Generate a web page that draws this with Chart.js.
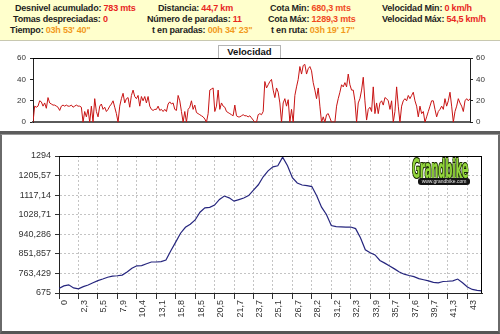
<!DOCTYPE html>
<html>
<head>
<meta charset="utf-8">
<script src="https://cdn.jsdelivr.net/npm/chart.js@4.4.0/dist/chart.umd.min.js"></script>
<style>
  html, body { margin: 0; padding: 0; }
  body { width: 500px; height: 334px; position: relative; overflow: hidden; background: #fff;
         font-family: "Liberation Sans", Arial, sans-serif; }
  #header { position: absolute; left: 0; top: 0; width: 500px; height: 40px; background: #ffffcc;
            border-bottom: 1px solid #c8c8b0; }
  .t { position: absolute; font-weight: bold; font-size: 9px; letter-spacing: -0.2px; line-height: 10px;
       white-space: nowrap; color: #1e1e1e; }
  .red { color: #e8261f; }
  .cota { color: #f04a1e; }
  .time { color: #f29a1d; }
  #speedWrap { position: absolute; left: 0; top: 42px; }
  #speedSep { position: absolute; left: 0; top: 131px; width: 500px; height: 3px; background: #5c5c5c; }
  #tab { position: absolute; left: 218px; top: 45px; width: 61px; height: 12px; background: #fff;
         border: 1px solid #b4b4b4; border-bottom: none; font-weight: bold; font-size: 9.5px;
         line-height: 12px; text-align: center; color: #111; }
  #elevWrap { position: absolute; left: 0; top: 134px; }
  #elevFrame { position: absolute; left: 0; top: 134px; width: 496px; height: 196px;
               border-left: 2px solid #6a6a6a; border-right: 2px solid #6a6a6a;
               border-bottom: 3px solid #555; border-top: 1px solid #9a9a9a; pointer-events: none; }
  #logo { position: absolute; left: 412px; top: 156px; width: 66px; height: 30px; }
  #logo .gb { position: absolute; left: 0; top: 0; font-family: "DejaVu Sans Condensed", "DejaVu Sans", sans-serif;
              font-weight: bold; font-size: 26px; line-height: 26px; color: #93d63c; transform: scaleX(0.43);
              transform-origin: left top; letter-spacing: -0.5px;
              text-shadow: 1px 1px 0 #1a2a00, -1px -1px 0 #1a2a00, 1px -1px 0 #1a2a00, -1px 1px 0 #1a2a00; }
  #logo .www { position: absolute; left: 6px; top: 22px; width: 52px; height: 7px; background: #141414;
               border-radius: 3px; color: #e8e8e8; font-size: 5px; line-height: 7px; text-align: center; }
</style>
</head>
<body>
<div id="header">
  <div class="t" style="left:15px;top:3px">Desnivel acumulado: <span class="red">783 mts</span></div>
  <div class="t" style="left:158px;top:3px">Distancia: <span class="red">44,7 km</span></div>
  <div class="t" style="left:270px;top:3px">Cota Min: <span class="cota">680,3 mts</span></div>
  <div class="t" style="left:382px;top:3px">Velocidad Min: <span class="red">0 km/h</span></div>

  <div class="t" style="left:13px;top:14px">Tomas despreciadas: <span class="red">0</span></div>
  <div class="t" style="left:147px;top:14px">Número de paradas: <span class="red">11</span></div>
  <div class="t" style="left:268px;top:14px">Cota Máx: <span class="cota">1289,3 mts</span></div>
  <div class="t" style="left:382px;top:14px">Velocidad Máx: <span class="red">54,5 km/h</span></div>

  <div class="t" style="left:10px;top:25px">Tiempo: <span class="time">03h 53' 40''</span></div>
  <div class="t" style="left:152px;top:25px">t en paradas: <span class="time">00h 34' 23''</span></div>
  <div class="t" style="left:271px;top:25px">t en ruta: <span class="time">03h 19' 17''</span></div>
</div>

<div id="speedWrap"><canvas id="speedChart" width="500" height="89"></canvas></div>
<div id="tab">Velocidad</div>
<div id="speedSep"></div>

<div id="elevWrap"><canvas id="elevChart" width="500" height="200"></canvas></div>
<div id="elevFrame"></div>
<div id="logo"><div class="gb">Grandbike</div><div class="www">www.grandbike.com</div></div>

<script>
// Velocidad (km/h), un valor por punto de la ruta
const speedKmh = [
  0,15,14,15,20,19,15,18,13,23,
  18,17,16,16,15,14,11,15,16,15,
  16,15,15,16,14,15,16,15,15,14,
  0,10,5,12,0,15,0,22,10,5,
  15,17,12,14,10,12,15,17,20,14,
  8,0,15,22,27,18,22,23,14,25,
  30,24,22,25,15,24,20,24,18,24,
  15,12,11,12,12,15,11,12,10,12,
  10,17,19,17,18,12,11,25,20,10,
  0,10,0,12,14,20,12,16,9,8,
  7,6,5,3,0,8,30,31,32,10,
  15,30,12,18,15,14,10,9,8,7,
  6,16,6,5,5,6,7,6,6,5,
  6,4,2,0,0,7,8,7,10,38,
  32,35,38,40,30,23,32,28,18,0,
  18,22,15,21,0,12,0,25,33,40,
  52,45,53,54,45,50,52,48,37,30,
  22,32,15,0,5,0,7,8,4,0,
  0,0,15,22,28,35,33,37,33,45,
  35,30,30,20,0,18,22,30,42,20,
  2,12,14,10,33,8,18,8,18,20,
  16,23,22,20,12,20,0,10,33,15,
  0,15,20,22,20,25,22,25,28,20,
  15,5,15,8,10,0,5,10,15,20,
  20,12,5,10,12,15,12,22,15,20,
  28,15,0,10,15,22,18,15,10,20,
  22,20,22
];
const speedTicks = [0, 20, 40, 60];

// Perfil de altitud (m), 4 muestras por cada marca del eje X
const elevPerLabel = 4;
const elevM = [
  696, 707, 712, 698, 694, 704, 711, 721, 731, 738,
  746, 751, 753, 756, 770, 787, 798, 799, 807, 815,
  815, 817, 824, 866, 905, 945, 972, 986, 1005, 1040,
  1060, 1062, 1072, 1098, 1113, 1105, 1090, 1097, 1104, 1115,
  1140, 1164, 1200, 1227, 1245, 1250, 1289, 1250, 1196, 1172,
  1163, 1160, 1156, 1114, 1063, 1030, 980, 975, 974, 973,
  973, 966, 925, 870, 857, 847, 822, 810, 797, 784,
  770, 760, 754, 749, 740, 735, 730, 723, 721, 727,
  728, 730, 738, 721, 702, 691, 687, 685
];
const distLabels = ['0','2,3','5,5','7,9','10,4','13,1','15,8','18,5','20,5','21,7','23,7',
                    '25,1','26,7','28,2','31,2','32,3','33,9','35,7','37,6','39,7','41,3','43'];
const elevTickLabels = ['675','763,429','851,857','940,286','1028,71','1117,14','1205,57','1294'];

const elevTickValues = elevTickLabels.map(s => parseFloat(s.replace(',', '.')));

// marco superior / derecho del área de dibujo
const plotFrame = {
  id: 'plotFrame',
  afterDraw(chart, args, opts) {
    const { ctx, chartArea: a } = chart;
    ctx.save();
    ctx.strokeStyle = '#000';
    ctx.lineWidth = 1;
    ctx.beginPath();
    ctx.moveTo(a.left, a.top + 0.5);
    ctx.lineTo(a.right, a.top + 0.5);
    if (opts.right) {
      ctx.moveTo(a.right - 0.5, a.top);
      ctx.lineTo(a.right - 0.5, a.bottom);
    }
    ctx.stroke();
    ctx.restore();
  }
};

const smallFont = { family: '"Liberation Sans", Arial, sans-serif', size: 8 };
const tickFont = { family: '"Liberation Sans", Arial, sans-serif', size: 9 };

function speedAxis(position, width) {
  return {
    position,
    min: 0, max: 60,
    afterBuildTicks: s => { s.ticks = speedTicks.map(v => ({ value: v })); },
    afterFit: s => { s.width = width; },
    ticks: { font: smallFont, color: '#333', padding: position === 'left' ? 4 : 3 },
    grid: { drawOnChartArea: false, tickLength: 3, tickColor: '#222' },
    border: { color: '#222' }
  };
}

new Chart(document.getElementById('speedChart'), {
  type: 'line',
  data: {
    datasets: [{
      data: speedKmh.map((v, i) => ({ x: i, y: v })),
      borderColor: '#c81414',
      borderWidth: 1,
      pointRadius: 0,
      tension: 0
    }]
  },
  options: {
    animation: false, responsive: false, devicePixelRatio: 1,
    layout: { padding: { top: 16, bottom: 4, left: 0, right: 0 } },
    plugins: { legend: { display: false }, tooltip: { enabled: false }, plotFrame: { right: false } },
    scales: {
      x: {
        type: 'linear', min: 0, max: speedKmh.length - 1,
        ticks: { display: false },
        grid: { display: false, drawTicks: false },
        border: { color: '#5a5a5a', width: 2 },
        afterFit: s => { s.height = 0; }
      },
      y: speedAxis('left', 33),
      y2: speedAxis('right', 30)
    }
  },
  plugins: [plotFrame]
});

new Chart(document.getElementById('elevChart'), {
  type: 'line',
  data: {
    datasets: [{
      data: elevM.map((v, i) => ({ x: i / elevPerLabel, y: v })),
      borderColor: '#26267e',
      borderWidth: 1.2,
      pointRadius: 0,
      tension: 0
    }]
  },
  options: {
    animation: false, responsive: false, devicePixelRatio: 1,
    layout: { padding: { top: 22, right: 18, left: 0, bottom: 0 } },
    plugins: { legend: { display: false }, tooltip: { enabled: false }, plotFrame: { right: true } },
    scales: {
      x: {
        type: 'linear', min: 0, max: 21.75,
        afterBuildTicks: s => { s.ticks = distLabels.map((_, i) => ({ value: i })); },
        afterFit: s => { s.height = 41; },
        ticks: {
          autoSkip: false, minRotation: 90, maxRotation: 90, labelOffset: 6, padding: 1,
          font: tickFont, color: '#333',
          callback: (v, i) => distLabels[i]
        },
        grid: { color: '#c4c4c4', tickLength: 6, tickColor: '#333' },
        border: { color: '#222', dash: [2, 2] }
      },
      y: {
        min: elevTickValues[0], max: elevTickValues[elevTickValues.length - 1],
        afterBuildTicks: s => {
          const t = [];
          elevTickValues.forEach((v, i) => {
            t.push({ value: v });
            if (i < elevTickValues.length - 1) t.push({ value: (v + elevTickValues[i + 1]) / 2 });
          });
          s.ticks = t;
        },
        afterFit: s => { s.width = 59; },
        ticks: {
          font: tickFont, color: '#333', padding: 4,
          callback: (v, i) => (i % 2 === 0 ? elevTickLabels[i / 2] : '')
        },
        grid: {
          color: c => (c.index % 2 === 0 ? '#c4c4c4' : 'rgba(0,0,0,0)'),
          tickLength: 4, tickColor: '#333'
        },
        border: { color: '#222', dash: [2, 2] }
      }
    }
  },
  plugins: [plotFrame]
});
</script>
</body>
</html>
